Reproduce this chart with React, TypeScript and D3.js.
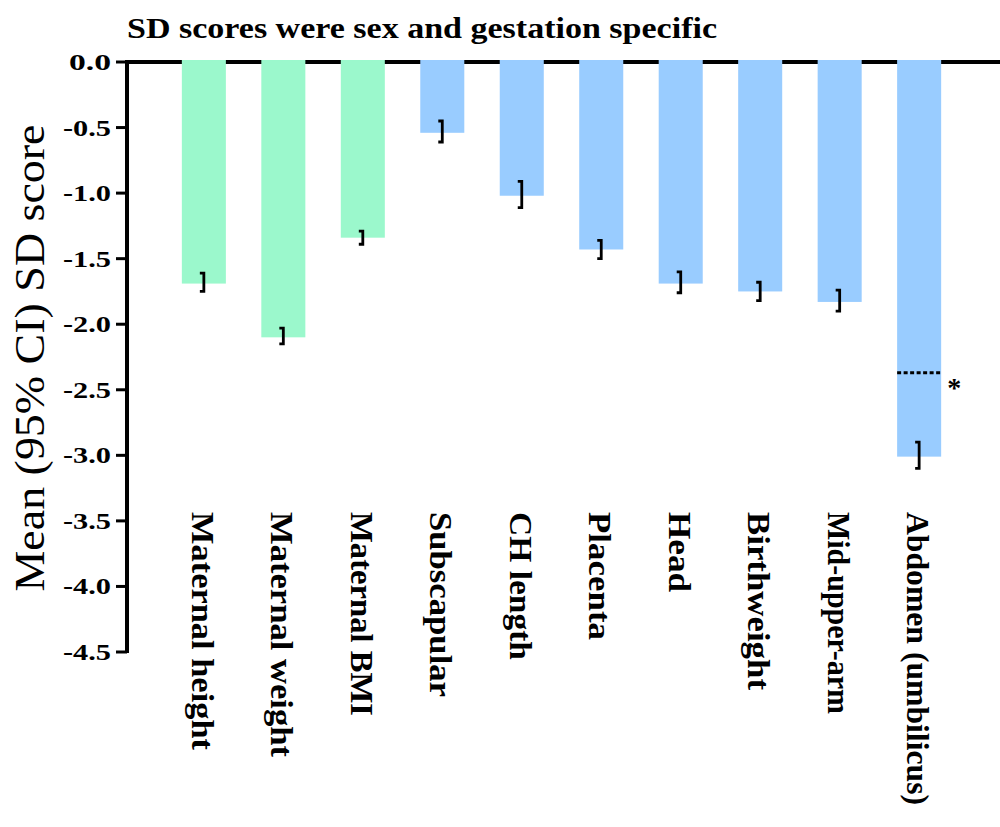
import React from "react";
import * as d3 from "d3";

const categories = [
  "Maternal height",
  "Maternal weight",
  "Maternal BMI",
  "Subscapular",
  "CH length",
  "Placenta",
  "Head",
  "Birthweight",
  "Mid-upper-arm",
  "Abdomen (umbilicus)",
];
const groups = ["maternal", "maternal", "maternal", "infant", "infant", "infant", "infant", "infant", "infant", "infant"];
const means = [-1.69, -2.1, -1.34, -0.54, -1.02, -1.43, -1.69, -1.75, -1.83, -3.01];
const ciUpper = [-1.61, -2.03, -1.29, -0.45, -0.91, -1.36, -1.6, -1.68, -1.74, -2.9];
const ciLower = [-1.75, -2.15, -1.39, -0.61, -1.11, -1.5, -1.76, -1.82, -1.9, -3.1];
const labelLengths = [238, 245, 204, 185, 148, 128, 80, 178, 202, 293];
const yTicks = [0, -0.5, -1, -1.5, -2, -2.5, -3, -3.5, -4, -4.5];
const refIndex = 9;
const refValue = -2.37;
const title = "SD scores were sex and gestation specific";
const yTitle = "Mean (95% CI) SD score";

const colors: Record<string, string> = { maternal: "#9BF8CC", infant: "#99CCFF" };
const FONT = "Liberation Serif";

export default function App() {
  const W = 1000;
  const H = 827;
  const y = d3.scaleLinear().domain([0, -4.5]).range([62, 652]);
  const x = d3
    .scaleBand<string>()
    .domain(categories)
    .range([127, 996])
    .paddingInner(0.446)
    .paddingOuter(0.69);
  const bw = x.bandwidth();
  const ff = { fontFamily: FONT };

  return (
    <svg
      width={W}
      height={H}
      style={{ position: "absolute", left: 0, top: 0, background: "#fff" }}
    >
      <rect x={0} y={0} width={W} height={H} fill="#fff" />
      <text x={127} y={38} fontSize={29} fontWeight="bold" style={ff} textLength={590} lengthAdjust="spacingAndGlyphs">
        {title}
      </text>
      <line x1={127} x2={1000} y1={y(0)} y2={y(0)} stroke="#000" strokeWidth={4} />
      <line x1={127} x2={127} y1={y(0) - 2} y2={y(-4.5) + 1} stroke="#000" strokeWidth={4} />
      {yTicks.map((t) => (
        <g key={t}>
          <line x1={116} x2={127} y1={y(t)} y2={y(t)} stroke="#000" strokeWidth={3} />
          <text
            x={111}
            y={y(t) + 8}
            textAnchor="end"
            fontSize={24}
            fontWeight="bold"
            style={ff}
            textLength={t === 0 ? 42 : 48}
            lengthAdjust="spacingAndGlyphs"
          >
            {t === 0 ? "0.0" : d3.format(".1f")(t).replace("−", "-")}
          </text>
        </g>
      ))}
      <text
        transform={`translate(44, ${358}) rotate(-90)`}
        textAnchor="middle"
        fontSize={42}
        style={ff}
        textLength={467}
        lengthAdjust="spacingAndGlyphs"
      >
        {yTitle}
      </text>
      {categories.map((c, i) => (
        <rect
          key={c}
          x={x(c)!}
          y={y(0) - 2}
          width={bw}
          height={y(means[i]) - y(0) + 2}
          fill={colors[groups[i]]}
        />
      ))}
      {categories.map((c, i) => {
        const cx = x(c)! + bw / 2;
        const y1 = y(ciUpper[i]);
        const y2 = y(ciLower[i]);
        return (
          <path
            key={c + "e"}
            d={`M${cx - 4},${y1} H${cx} V${y2} H${cx - 4}`}
            fill="none"
            stroke="#000"
            strokeWidth={2.8}
          />
        );
      })}
      <line
        x1={x(categories[refIndex])!}
        x2={x(categories[refIndex])! + bw}
        y1={y(refValue)}
        y2={y(refValue)}
        stroke="#000"
        strokeWidth={3}
        strokeDasharray="4 2.5"
      />
      <text x={x(categories[refIndex])! + bw + 6} y={y(refValue) + 24} fontSize={28} fontWeight="bold" style={ff}>
        *
      </text>
      {categories.map((c, i) => {
        const cx = x(c)! + bw / 2;
        return (
          <text
            key={c + "l"}
            transform={`translate(${cx - 12}, 512) rotate(90)`}
            fontSize={32}
            fontWeight="bold"
            style={ff}
            textLength={labelLengths[i]}
            lengthAdjust="spacingAndGlyphs"
          >
            {c}
          </text>
        );
      })}
    </svg>
  );
}
